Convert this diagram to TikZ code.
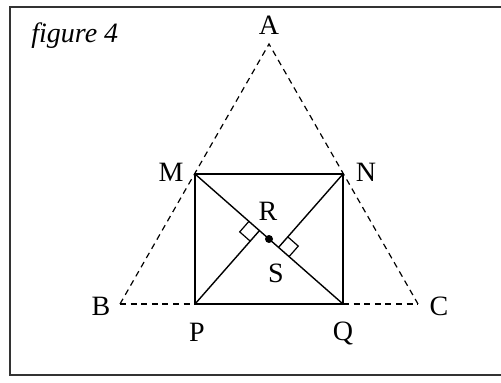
\documentclass[tikz,border=0pt]{standalone}
\usepackage{fontspec}
\setmainfont{Liberation Serif}
\usepackage{tikz}
\usetikzlibrary{calc}
\definecolor{cadre}{HTML}{333333}
\newcommand{\taillelbl}{\fontsize{14pt}{16pt}\selectfont}
\tikzset{
  lbl/.style={inner sep=0pt, font=\taillelbl},
  pointille/.style={line width=0.6pt, dashed, dash pattern=on 3pt off 2.3pt},
  trait/.style={line width=0.7pt},
  angdroit/.style={line width=0.6pt},
}
\begin{document}
\begin{tikzpicture}[x=0.5pt,y=-0.5pt]
  \useasboundingbox (0,0) rectangle (501,383);
  \draw[cadre, line width=0.7pt] (10,7) rectangle (503,375);
  % sommets
  \coordinate (A) at (269,44);
  \coordinate (B) at (120,304);
  \coordinate (C) at (418,304);
  \coordinate (M) at (195,174);
  \coordinate (N) at (343,174);
  \coordinate (P) at (195,304);
  \coordinate (Q) at (343,304);
  \coordinate (O) at ($(M)!0.5!(Q)$);
  \coordinate (R) at ($(M)!(P)!(Q)$);
  \coordinate (S) at ($(M)!(N)!(Q)$);
  % triangle
  \draw[pointille] (B) -- (A) -- (C);
  \draw[pointille] (B) -- (P);
  \draw[pointille] (Q) -- (C);
  % rectangle et diagonale
  \draw[trait] (M) -- (N) -- (Q) -- (P) -- cycle;
  \draw[trait] (M) -- (Q);
  \draw[trait] (P) -- (R);
  \draw[trait] (N) -- (S);
  \fill (O) circle (2pt);
  % angles droits
  \draw[angdroit] ($(R)!7pt!(M)$) -- ($($(R)!7pt!(M)$)+($(R)!7pt!(P)$)-(R)$) -- ($(R)!7pt!(P)$);
  \draw[angdroit] ($(S)!7pt!(Q)$) -- ($($(S)!7pt!(Q)$)+($(S)!7pt!(N)$)-(S)$) -- ($(S)!7pt!(N)$);
  % etiquettes
  \node[lbl] (lA) at (269,25) {A};
  \node[lbl] (lB) at (101,306) {B};
  \node[lbl] (lC) at (439,306) {C};
  \node[lbl] (lM) at (171,172) {M};
  \node[lbl] (lN) at (366,172) {N};
  \node[lbl] (lP) at (197,332) {P};
  \node[lbl, anchor=north] (lQ) at (343,322) {Q};
  \node[lbl] (lR) at (268,211) {R};
  \node[lbl] (lS) at (276,273) {S};
  \node[lbl, anchor=base west] (titre) at (31,43) {\itshape figure 4};
\end{tikzpicture}
\end{document}
